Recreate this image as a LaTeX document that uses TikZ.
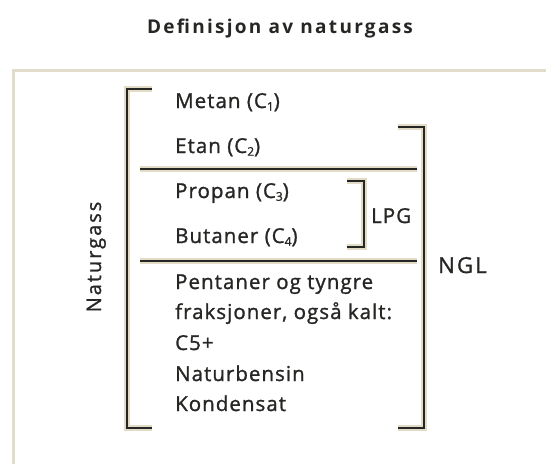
\documentclass[tikz,border=0pt]{standalone}
\usepackage{fontspec}
\setmainfont{Open Sans}[LetterSpace=5, FakeBold=1.2]
\newfontfamily\labelfont{Open Sans}[LetterSpace=10, FakeBold=1.2]
\newfontfamily\headfont{Open Sans}[LetterSpace=12]
\definecolor{halo}{RGB}{226,219,198}
\definecolor{ink}{RGB}{38,38,36}
\definecolor{framec}{RGB}{226,220,202}
\newcommand\sub[1]{\raisebox{-0.25ex}{\fontsize{12}{12}\selectfont #1}}
\begin{document}
\begin{tikzpicture}[x=1pt,y=-1pt,
  item/.style={anchor=base west, font=\fontsize{20.5}{22}\selectfont, text=ink, inner sep=0pt},
  grouplabel/.style={item, font=\labelfont\fontsize{20}{22}\selectfont},
  rule/.style={line width=2.5pt, draw=ink, line join=miter, preaction={draw=halo, line width=5.5pt}},
  title/.style={font=\headfont\bfseries\fontsize{19}{22}\selectfont, text=ink, inner sep=0pt, anchor=base}]
\useasboundingbox (0,0) rectangle (546,464);

% outer frame
\draw[framec, line width=3pt] (13,464) -- (13,70) -- (546,70);

% heading
\node[title] (head) at (280,33) {Definisjon av naturgass};

% component list
\node[item] (c1) at (175,108) {Metan (C\sub{1})};
\node[item] (c2) at (175,153) {Etan (C\sub{2})};
\node[item] (c3) at (175,198) {Propan (C\sub{3})};
\node[item] (c4) at (175,243) {Butaner (C\sub{4})};
\node[item] (c5a) at (175,289) {Pentaner og tyngre};
\node[item] (c5b) at (175,319) {fraksjoner, også kalt:};
\node[item] (c5c) at (175,350) {C5+};
\node[item] (c5d) at (175,381) {Naturbensin};
\node[item] (c5e) at (175,411) {Kondensat};

% group labels
\node[grouplabel, anchor=base, rotate=90] (ng) at (101,257) {Naturgass};
\node[item] (lpg) at (371,223) {LPG};
\node[grouplabel, font=\labelfont\fontsize{22}{24}\selectfont] (ngl) at (438,273) {NGL};

% bracket corners
\coordinate (ngTop) at (152,89);
\coordinate (ngBot) at (152,428);
\coordinate (nglTop) at (398,127);
\coordinate (nglBot) at (398,428);
\coordinate (lpgTop) at (347,181);
\coordinate (lpgBot) at (347,247);

% brackets
\draw[rule] (ngTop) -- (127,89) -- (127,428) -- (ngBot);
\draw[rule] (nglTop) -- (424,127) -- (424,428) -- (nglBot);
\draw[rule] (lpgTop) -- (364,181) -- (364,247) -- (lpgBot);

% separators
\coordinate (s1a) at (140,169);
\coordinate (s1b) at (417,169);
\coordinate (s2a) at (140,261);
\coordinate (s2b) at (417,261);
\draw[rule] (s1a) -- (s1b);
\draw[rule] (s2a) -- (s2b);
\end{tikzpicture}
\end{document}
